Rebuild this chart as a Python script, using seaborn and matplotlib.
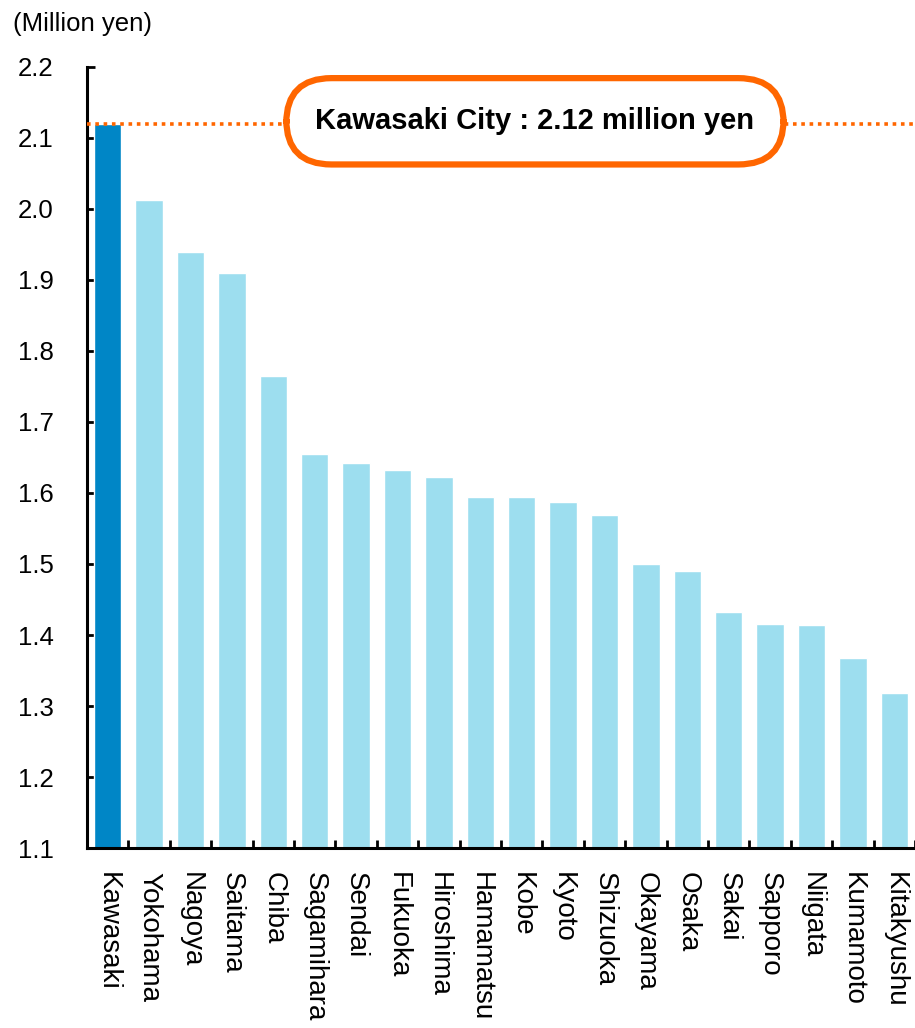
import matplotlib
matplotlib.use('Agg')
import matplotlib.pyplot as plt
import seaborn as sns
import pandas as pd
import numpy as np

cities = ['Kawasaki', 'Yokohama', 'Nagoya', 'Saitama', 'Chiba', 'Sagamihara', 'Sendai',
          'Fukuoka', 'Hiroshima', 'Hamamatsu', 'Kobe', 'Kyoto', 'Shizuoka', 'Okayama',
          'Osaka', 'Sakai', 'Sapporo', 'Niigata', 'Kumamoto', 'Kitakyushu']
income = [2.12, 2.013, 1.939, 1.910, 1.765, 1.655, 1.642, 1.632, 1.622, 1.594,
          1.594, 1.587, 1.569, 1.500, 1.490, 1.432, 1.416, 1.414, 1.367, 1.318]
yticks = [1.1, 1.2, 1.3, 1.4, 1.5, 1.6, 1.7, 1.8, 1.9, 2.0, 2.1, 2.2]
kawasaki_value = 2.12

sns.set_style('white')
plt.rcParams['font.family'] = ['Liberation Sans', 'DejaVu Sans']
plt.rcParams['text.color'] = 'black'
plt.rcParams['xtick.color'] = 'black'
plt.rcParams['ytick.color'] = 'black'

df = pd.DataFrame({'city': cities, 'income': income})
colors = ['#0086C6'] + ['#9DDEEF'] * (len(cities) - 1)

fig = plt.figure(figsize=(9.15, 10.28), dpi=100)
ax = fig.add_axes([0.095, 0.175, 0.905, 0.76])
sns.barplot(data=df, x='city', y='income', hue='city', palette=colors, legend=False,
            width=0.66, saturation=1, ax=ax)

ax.set_ylim(1.1, 2.2)
ax.set_xlim(-0.5, len(cities) - 0.5)
ax.set_yticks(yticks)
ax.set_yticklabels(['%.1f' % v for v in yticks], fontsize=18.5)
ax.set_xlabel('')
ax.set_ylabel('')

for s in ['top', 'right']:
    ax.spines[s].set_visible(False)
for s in ['left', 'bottom']:
    ax.spines[s].set_linewidth(2.2)
    ax.spines[s].set_color('black')

ax.tick_params(axis='y', left=True, direction='in', length=6, width=2, pad=24, colors='black')
ax.tick_params(axis='x', which='major', bottom=True, length=0, pad=17, labelcolor='black')
ax.set_xticks(np.arange(len(cities)) + 0.5, minor=True)
ax.tick_params(axis='x', which='minor', bottom=True, direction='in', length=6, width=2,
               color='black')
for lab in ax.get_xticklabels():
    lab.set_rotation(-90)
    lab.set_fontsize(20)
    lab.set_va('top')
    lab.set_ha('center')

ax.axhline(kawasaki_value, color='#FF6600', lw=2.6, ls=(0, (1, 1.3)), zorder=3)

ax.text(0.541, (kawasaki_value - 1.1) / 1.1 + 0.003, 'Kawasaki City : 2.12 million yen',
        transform=ax.transAxes, ha='center', va='center', fontsize=21, fontweight='bold',
        color='black', zorder=5,
        bbox=dict(boxstyle='round,pad=1.0,rounding_size=1.55', fc='white',
                  ec='#FF6600', lw=4.5))

fig.text(0.014, 0.988, '(Million yen)', fontsize=18.5, ha='left', va='top', color='black')

fig.savefig('out.png', dpi=100)
